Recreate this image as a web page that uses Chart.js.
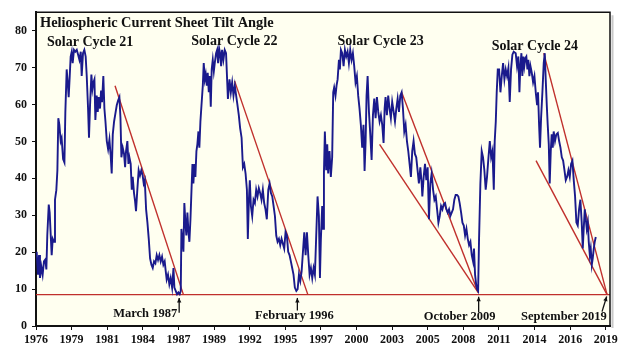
<!DOCTYPE html>
<html>
<head>
<meta charset="utf-8">
<script src="https://cdn.jsdelivr.net/npm/chart.js@4.4.0/dist/chart.umd.min.js"></script>
<style>
  html, body { margin: 0; padding: 0; background: #fff; }
  #wrap { width: 624px; height: 351px; }
</style>
</head>
<body>
<div id="wrap"><canvas id="tiltChart" width="624" height="351"></canvas></div>
<script>
// tilt angle (degrees), x in decimal years
const years = [
  1976.55,1976.65,1976.73,1976.80,1976.90,1977.00,1977.10,1977.20,1977.28,1977.35,1977.46,1977.53,1977.61,1977.68,1977.76,1977.86,1977.93,1978.03,1978.11,1978.18,
  1978.26,1978.36,1978.43,1978.54,1978.64,1978.71,1978.81,1978.89,1978.96,1979.04,1979.11,1979.19,1979.26,1979.36,1979.46,1979.57,1979.67,1979.77,1979.87,1979.94,
  1980.04,1980.14,1980.24,1980.32,1980.42,1980.49,1980.57,1980.67,1980.75,1980.82,1980.90,1980.97,1981.07,1981.15,1981.22,1981.32,1981.40,1981.47,1981.57,1981.65,
  1981.73,1981.83,1981.93,1982.03,1982.13,1982.20,1982.28,1982.38,1982.48,1982.58,1982.68,1982.78,1982.86,1982.93,1983.03,1983.13,1983.21,1983.28,1983.38,1983.46,1983.53,
  1983.63,1983.71,1983.78,1983.88,1983.96,1984.03,1984.13,1984.23,1984.33,1984.43,1984.53,1984.61,1984.69,1984.79,1984.89,1984.99,1985.09,1985.19,1985.29,1985.39,
  1985.49,1985.59,1985.69,1985.79,1985.89,1985.99,1986.09,1986.19,1986.27,1986.34,1986.44,1986.54,1986.64,1986.75,1986.85,1986.92,1987.02,1987.12,1987.22,1987.32,
  1987.40,1987.45,1987.52,1987.60,1987.67,1987.75,1987.82,1987.90,1987.98,1988.05,1988.13,1988.20,1988.28,1988.35,1988.43,1988.50,1988.58,1988.65,1988.73,1988.80,
  1988.88,1988.96,1989.06,1989.13,1989.21,1989.28,1989.36,1989.43,1989.51,1989.58,1989.66,1989.73,1989.81,1989.89,1989.96,1990.06,1990.14,1990.21,1990.29,1990.36,
  1990.44,1990.51,1990.61,1990.71,1990.81,
  1990.95,1991.07,1991.17,1991.27,1991.37,1991.47,1991.57,1991.67,1991.77,1991.87,1991.98,1992.08,1992.18,1992.28,1992.38,1992.45,1992.53,1992.60,1992.68,1992.78,
  1992.88,1992.98,1993.08,1993.18,1993.28,1993.38,1993.48,1993.58,1993.68,1993.78,1993.88,1993.99,1994.09,1994.19,1994.29,1994.39,1994.49,1994.59,1994.69,1994.79,
  1994.89,1994.99,1995.09,1995.19,1995.29,1995.39,1995.49,1995.59,1995.69,1995.79,1995.89,1995.99,1996.10,1996.20,1996.30,1996.40,1996.50,1996.60,1996.70,1996.80,
  1996.90,1997.00,1997.10,1997.20,1997.30,1997.40,1997.50,1997.60,1997.70,1997.80,1997.88,1997.95,1998.05,1998.12,1998.18,1998.25,
  1998.35,1998.43,1998.50,1998.60,1998.70,1998.80,1998.88,1998.95,1999.05,1999.13,1999.21,1999.31,1999.38,1999.46,1999.56,1999.66,1999.76,1999.86,1999.96,2000.06,
  2000.16,2000.26,2000.36,2000.46,2000.56,2000.66,2000.76,2000.86,2000.96,2001.06,2001.16,2001.24,2001.32,2001.39,2001.47,2001.57,2001.67,2001.77,2001.87,2001.97,
  2002.07,2002.17,2002.27,2002.37,2002.47,2002.57,2002.67,2002.75,2002.82,2002.92,2003.02,2003.12,2003.22,2003.32,2003.43,2003.53,2003.63,2003.73,2003.83,2003.93,
  2004.03,2004.13,2004.23,2004.33,2004.43,2004.53,2004.63,2004.73,2004.83,2004.93,2005.03,2005.13,2005.23,2005.33,2005.44,2005.54,
  2005.59,2005.69,2005.79,2005.89,2005.99,2006.09,2006.19,2006.29,2006.40,2006.50,2006.60,2006.70,2006.80,2006.90,2007.00,2007.10,2007.20,2007.30,2007.40,2007.50,
  2007.60,2007.70,2007.80,2007.90,2008.00,2008.10,2008.20,2008.30,2008.40,2008.51,2008.61,2008.71,2008.81,2008.91,2009.01,2009.11,2009.21,2009.31,2009.41,2009.48,
  2009.56,2009.64,2009.71,2009.79,2009.86,2009.96,2010.06,2010.16,2010.26,2010.36,2010.46,2010.57,2010.67,2010.77,2010.87,2010.97,2011.04,2011.12,2011.19,2011.27,
  2011.37,2011.47,2011.57,2011.67,2011.77,2011.87,2011.97,2012.07,2012.17,2012.27,2012.37,2012.47,
  2012.62,2012.72,2012.82,2012.90,2012.97,2013.05,2013.12,2013.20,2013.27,2013.35,2013.42,2013.50,2013.57,2013.65,2013.73,2013.83,2013.93,2014.03,2014.13,2014.23,
  2014.30,2014.38,2014.45,2014.53,2014.63,2014.73,2014.81,2014.88,2014.96,2015.03,2015.11,2015.18,2015.26,2015.33,2015.41,2015.48,2015.58,2015.68,2015.79,2015.89,
  2015.99,2016.09,2016.19,2016.29,2016.39,2016.49,2016.59,2016.69,2016.79,2016.89,2016.99,2017.09,2017.19,2017.29,2017.39,2017.49,2017.59,2017.67,2017.74,2017.82,
  2017.90,2017.97,2018.05,2018.12,2018.20,2018.27,2018.35,2018.42,2018.50,2018.57,2018.65
];
const tilt = [
  20.1,13.9,19.2,13.0,16.1,13.9,17.5,18.0,15.3,24.5,32.9,30.7,24.5,19.2,23.6,22.8,34.2,36.8,42.1,56.3,
  54.5,50.1,50.9,45.2,44.3,58.0,69.5,65.9,62.0,67.7,73.0,74.3,71.2,74.8,74.3,74.8,73.5,72.1,74.3,67.7,
  73.9,74.8,73.0,67.7,58.9,51.0,59.8,68.1,64.2,65.9,66.8,55.8,62.4,58.0,62.0,58.9,63.8,60.6,67.7,58.9,
  55.4,50.1,47.9,50.5,45.7,41.3,51.9,55.4,57.6,59.8,61.1,62.0,56.3,45.7,48.3,46.6,43.0,47.4,50.1,43.9,45.7,
  43.9,36.9,40.4,36.0,33.8,31.1,36.9,42.2,40.8,42.2,40.8,38.6,39.5,31.6,28.0,23.6,18.3,16.6,15.7,17.5,
  17.0,19.2,17.9,19.2,17.5,18.8,16.6,17.5,14.8,12.6,13.9,11.3,13.0,10.4,15.7,10.4,9.5,8.6,9.1,8.6,
  9.5,26.3,23.6,20.1,33.3,28.0,24.5,30.7,25.4,22.8,28.9,36.0,43.9,38.6,43.9,40.4,47.4,49.2,52.7,48.3,
  55.4,59.8,65.1,71.2,66.8,68.2,65.1,68.6,63.3,67.7,59.4,69.5,72.1,69.0,71.2,73.9,74.8,71.2,75.2,73.9,
  70.4,74.8,72.1,74.8,73.9,
  61.5,66.8,63.3,66.0,62.4,65.1,62.4,59.8,57.1,53.6,51.0,43.0,43.9,41.3,36.9,23.6,34.2,39.5,32.5,29.8,
  34.2,33.3,36.9,35.1,37.3,36.0,34.2,36.9,33.3,31.6,28.9,36.9,38.6,36.0,35.1,32.5,29.8,24.5,22.8,23.6,
  21.9,23.6,22.3,21.0,25.4,24.5,20.1,19.2,17.5,15.7,13.9,10.4,9.5,10.0,13.9,12.2,14.8,20.1,25.4,19.2,
  25.4,19.2,13.9,15.7,13.0,15.7,13.9,24.5,35.1,29.8,13.0,23.6,32.5,26.3,41.3,52.7,
  42.2,49.2,41.3,47.4,40.4,45.7,63.3,64.6,62.4,65.1,66.8,72.1,69.5,74.8,73.9,70.4,74.8,73.0,74.3,71.2,
  74.8,72.1,73.9,70.4,66.0,67.7,62.4,58.9,54.5,48.3,54.5,42.0,50.1,62.4,67.7,58.0,51.9,45.0,57.1,61.6,
  56.3,62.0,58.0,55.4,57.1,54.5,49.6,58.9,62.0,57.1,62.4,58.9,56.3,60.7,58.0,55.4,58.9,61.6,58.0,62.4,
  63.3,58.9,52.7,54.5,50.1,47.4,43.9,40.4,47.4,50.1,46.6,45.7,42.2,38.6,43.0,38.6,
  35.1,40.4,43.9,39.5,43.0,28.9,38.6,41.3,36.9,34.2,35.1,31.6,28.0,29.8,32.5,31.6,33.0,33.3,31.6,30.7,
  31.6,29.8,30.7,31.6,34.2,35.5,35.5,35.1,33.3,30.7,28.0,27.2,24.5,26.3,23.6,21.9,22.8,19.2,17.5,21.0,
  13.9,11.3,10.0,9.5,23.6,38.6,47.4,45.7,42.2,36.9,40.4,45.7,50.1,45.7,47.4,36.9,50.1,55.4,63.3,69.5,
  69.5,63.3,67.7,71.2,66.8,69.5,67.7,69.9,60.7,69.5,73.5,74.3,
  73.9,70.4,73.0,63.3,70.4,73.9,67.7,73.0,70.4,72.6,73.0,69.5,72.1,67.7,70.4,68.6,66.0,67.7,63.3,59.8,
  63.3,54.5,48.3,56.3,63.3,71.2,73.9,66.8,59.8,54.5,49.2,38.6,47.4,51.9,48.3,52.7,50.1,51.9,52.3,50.1,
  48.3,45.7,44.8,42.2,39.5,40.4,42.2,40.4,43.9,44.8,39.5,35.1,28.0,27.2,31.6,34.2,28.0,21.0,26.3,31.6,
  28.9,26.3,28.0,22.8,19.2,21.0,16.6,18.3,21.0,22.8,24.1
];

// red trend lines: [startYear, startValue, endYear, endValue]
const trendLines = [
  [1982.45, 65.1, 1987.60, 8.5],
  [1991.45, 66.4, 1996.97, 8.5],
  [2004.03, 63.3, 2009.79, 9.1],
  [2002.37, 49.2, 2009.79, 9.1],
  [2014.73, 73.9, 2019.50, 8.5],
  [2014.15, 44.8, 2019.50, 8.5]
];
const floorLevel = 8.5;

// x axis: category style labels, evenly spaced like the original
const xTickLabels = ["1976","1979","1981","1984","1987","1989","1992","1995","1997",
  "2000","2003","2005","2008","2011","2014","2016","2019"];
const xMin = 1976.5, xMax = 2019.72, lastTick = 2019.4;

const chartTitle = "Heliospheric Current Sheet Tilt Angle";
const cycleNames = ["Solar Cycle 21","Solar Cycle 22","Solar Cycle 23","Solar Cycle 24"];
const cycleLabelAt = [[1977.33, 76.7],[1988.19, 77.2],[1999.2, 77.0],[2010.81, 75.7]];

const minimaNames = ["March 1987","February 1996","October 2009","September 2019"];
const minimaTextAt = [[1987.13, 3.4, "right"],[1995.96, 2.9, "center"],[2008.4, 2.4, "center"],[2019.48, 2.4, "right"]];
const arrowFrom = [[1987.28, 3.6],[1996.18, 4.2],[2009.83, 3.7],[2019.12, 3.9]];
const arrowTo   = [[1987.28, 7.6],[1996.18, 7.6],[2009.83, 7.9],[2019.47, 8.0]];

const serif = '"Liberation Serif", "DejaVu Serif", serif';

const trendSets = trendLines.map(function (t) {
  return {
    data: [{ x: t[0], y: t[1] }, { x: t[2], y: t[3] }],
    borderColor: "#c0302c", borderWidth: 1.4, pointRadius: 0, tension: 0
  };
});

// cream plot area + frame + the text notes
const decor = {
  id: "decor",
  beforeDraw(chart) {
    const c = chart.ctx, a = chart.chartArea;
    c.save();
    c.fillStyle = "#ffffff";
    c.fillRect(0, 0, chart.width, chart.height);
    c.fillStyle = "#fffff0";
    c.fillRect(a.left, a.top, a.right - a.left, a.bottom - a.top);
    c.restore();
  },
  afterDraw(chart) {
    const c = chart.ctx, a = chart.chartArea;
    const xs = chart.scales.x, ys = chart.scales.y;
    c.save();
    // frame on top and right, with a little grey shadow
    c.strokeStyle = "#c8c8c8";
    c.lineWidth = 2;
    c.beginPath();
    c.moveTo(a.right + 2.5, a.top + 3);
    c.lineTo(a.right + 2.5, a.bottom + 2);
    c.stroke();
    c.strokeStyle = "#111";
    c.lineWidth = 1.5;
    c.beginPath();
    c.moveTo(a.left, a.top);
    c.lineTo(a.right, a.top);
    c.lineTo(a.right, a.bottom);
    c.stroke();

    c.fillStyle = "#111";
    c.textBaseline = "middle";
    c.font = "bold 14.4px " + serif;
    c.textAlign = "left";
    c.fillText(chartTitle, xs.getPixelForValue(1976.8), ys.getPixelForValue(82));
    c.font = "bold 14px " + serif;
    cycleNames.forEach(function (n, i) {
      c.fillText(n, xs.getPixelForValue(cycleLabelAt[i][0]), ys.getPixelForValue(cycleLabelAt[i][1]));
    });

    c.font = "bold 12.5px " + serif;
    minimaNames.forEach(function (n, i) {
      const p = minimaTextAt[i];
      c.textAlign = p[2];
      c.fillText(n, xs.getPixelForValue(p[0]), ys.getPixelForValue(p[1]));
    });

    // arrows pointing at the minima
    c.strokeStyle = "#111";
    c.lineWidth = 1.3;
    arrowFrom.forEach(function (f, i) {
      const x1 = xs.getPixelForValue(f[0]), y1 = ys.getPixelForValue(f[1]);
      const x2 = xs.getPixelForValue(arrowTo[i][0]), y2 = ys.getPixelForValue(arrowTo[i][1]);
      const ang = Math.atan2(y2 - y1, x2 - x1);
      c.beginPath();
      c.moveTo(x1, y1);
      c.lineTo(x2, y2);
      c.stroke();
      c.beginPath();
      c.moveTo(x2, y2);
      c.lineTo(x2 - 5 * Math.cos(ang - 0.45), y2 - 5 * Math.sin(ang - 0.45));
      c.lineTo(x2 - 5 * Math.cos(ang + 0.45), y2 - 5 * Math.sin(ang + 0.45));
      c.closePath();
      c.fill();
    });
    c.restore();
  }
};

new Chart(document.getElementById("tiltChart"), {
  type: "line",
  data: {
    datasets: [
      {
        data: years.map(function (y, i) { return { x: y, y: tilt[i] }; }),
        borderColor: "#1a1a8c", borderWidth: 1.9, pointRadius: 0, tension: 0
      },
      {
        data: [{ x: xMin, y: floorLevel }, { x: xMax, y: floorLevel }],
        borderColor: "#c0302c", borderWidth: 1.4, pointRadius: 0
      }
    ].concat(trendSets)
  },
  options: {
    responsive: false,
    animation: false,
    layout: { padding: { top: 4, right: 14, left: 0, bottom: 0 } },
    plugins: { legend: { display: false }, tooltip: { enabled: false } },
    scales: {
      x: {
        type: "linear",
        min: xMin,
        max: xMax,
        afterBuildTicks: function (scale) {
          const step = (lastTick - xMin) / (xTickLabels.length - 1);
          scale.ticks = xTickLabels.map(function (l, i) { return { value: xMin + i * step }; });
        },
        afterFit: function (scale) { scale.height = 25; },
        ticks: {
          autoSkip: false, maxRotation: 0, padding: 3,
          color: "#111",
          font: { family: serif, size: 12, weight: "bold" },
          callback: function (v, i) { return xTickLabels[i]; }
        },
        grid: { drawOnChartArea: false, drawTicks: true, tickLength: 4, color: "#111" },
        border: { color: "#111", width: 2 }
      },
      y: {
        min: 0,
        max: 85,
        afterBuildTicks: function (scale) {
          scale.ticks = scale.ticks.filter(function (t) { return t.value <= 80; });
        },
        afterFit: function (scale) { scale.width = 36; },
        ticks: {
          stepSize: 10, padding: 5, color: "#111",
          font: { family: serif, size: 12, weight: "bold" }
        },
        grid: { drawOnChartArea: false, drawTicks: true, tickLength: 4, color: "#111" },
        border: { color: "#111", width: 2 }
      }
    }
  },
  plugins: [decor]
});
</script>
</body>
</html>
